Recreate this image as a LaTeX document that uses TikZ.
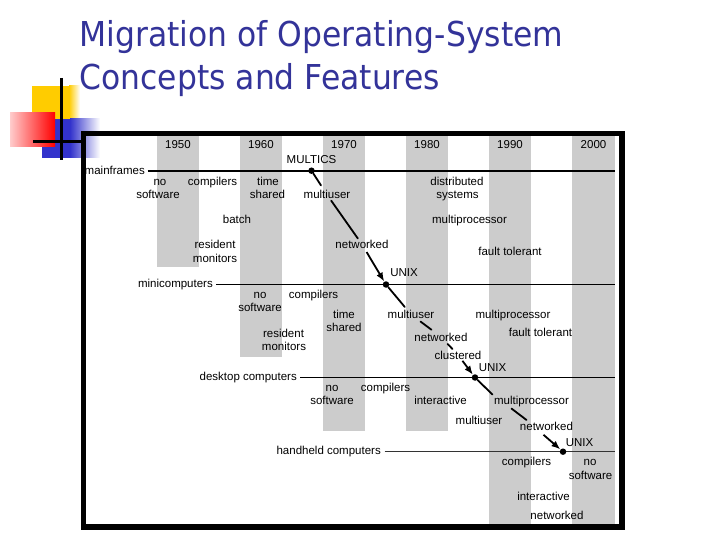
\documentclass[tikz,border=0pt]{standalone}
\usepackage{fontspec}
\setmainfont{Liberation Sans}
\newfontfamily\titlefont[FakeStretch=0.915]{DejaVu Sans}
\usetikzlibrary{arrows.meta,calc}
\definecolor{titleblue}{RGB}{51,51,153}
\definecolor{bandgray}{RGB}{204,204,204}
\definecolor{logoyellow}{RGB}{255,204,0}
\definecolor{logoblue}{RGB}{51,51,204}
\definecolor{logored}{RGB}{255,0,0}
\begin{document}
\begin{tikzpicture}[x=1pt,y=-1pt,
  txt/.style={font=\fontsize{11.5}{13.3}\selectfont, inner sep=1.5pt, anchor=base},
  lbl/.style={font=\fontsize{11.5}{13.3}\selectfont, inner sep=0pt, anchor=east},
  titletxt/.style={font=\titlefont\fontsize{34.3}{43}\selectfont, text=titleblue, inner sep=0pt, anchor=base west},
  band/.style={fill=bandgray},
  conn/.style={line width=1.8pt, line cap=round},
  arr/.style={line width=1.8pt, -{Latex[length=9pt,width=7pt]}},
  dotnode/.style={circle, fill=black, inner sep=0pt, minimum size=6.5pt},
  logoline/.style={line width=2.5pt, black}
  ]
\useasboundingbox (0,0) rectangle (720,540);
\fill[white] (0,0) rectangle (720,540);

% ---- logo ----
\fill[logoyellow] (32,86) rectangle (69,127);
\shade[left color=logoyellow, right color=white] (69,86) rectangle (80,127);
\fill[logoblue] (42,119) rectangle (70,158);
\shade[left color=logoblue, right color=white] (70,119) rectangle (100,158);
\shade[left color=logored!20!white, right color=logored] (10,113) rectangle (55,147);
\draw[logoline] (61.5,78) -- (61.5,160);
\draw[logoline] (33,141.5) -- (82,141.5);

% ---- title ----
\node[titletxt] (title1) at (79.5,46.7) {Migration of Operating-System};
\node[titletxt] (title2) at (79.5,90) {Concepts and Features};

% ---- decade bands ----
\fill[band] (157,136) rectangle (199,267);
\fill[band] (240,136) rectangle (282,357);
\fill[band] (323,136) rectangle (365,431);
\fill[band] (406,136) rectangle (448,431);
\fill[band] (489,136) rectangle (531,524);
\fill[band] (572,136) rectangle (615,524);

% ---- frame ----
\draw[line width=5.6pt] (83.5,133.5) rectangle (622.2,527);

% ---- years ----
\node[txt] (y1950) at (178,149) {1950};
\node[txt] (y1960) at (261,149) {1960};
\node[txt] (y1970) at (344,149) {1970};
\node[txt] (y1980) at (427,149) {1980};
\node[txt] (y1990) at (510,149) {1990};
\node[txt] (y2000) at (593.5,149) {2000};

% ---- platform lines ----
\coordinate (rx) at (615,0);
\node[lbl] (mfl) at (145,170.7) {mainframes};
\node[lbl] (mcl) at (213,284.5) {minicomputers};
\node[lbl] (dcl) at (297,377.5) {desktop computers};
\node[lbl] (hcl) at (381,451.7) {handheld computers};
\draw[line width=2.2pt, shorten <=2.5pt] (mfl.east) -- (mfl.east -| rx);
\draw[line width=1.5pt, shorten <=3pt] (mcl.east) -- (mcl.east -| rx);
\draw[line width=1.2pt, shorten <=3pt] (dcl.east) -- (dcl.east -| rx);
\draw[line width=0.8pt, black!80, shorten <=3.5pt] (hcl.east) -- (hcl.east -| rx);

% ---- mainframes ----
\node[txt] (mlt) at (311.5,164) {MULTICS};
\node[txt] (ns1a) at (160,185.5) {no};
\node[txt] (ns1b) at (158,198.8) {software};
\node[txt] (cp1) at (212.5,185.5) {compilers};
\node[txt] (ts1a) at (268,185.5) {time};
\node[txt] (ts1b) at (267.5,198.8) {shared};
\node[txt] (mu1) at (327,198.8) {multiuser};
\node[txt] (bt1) at (237,224) {batch};
\node[txt] (rm1a) at (215,248.5) {resident};
\node[txt] (rm1b) at (215,262) {monitors};
\node[txt] (nw1) at (362,248.5) {networked};
\node[txt] (ds1a) at (457,185.5) {distributed};
\node[txt] (ds1b) at (457.5,198.8) {systems};
\node[txt] (mp1) at (469.5,224) {multiprocessor};
\node[txt] (ft1) at (510,255) {fault tolerant};
\node[txt] (ux1) at (404,276) {UNIX};

% ---- minicomputers ----
\node[txt] (ns2a) at (260,298.5) {no};
\node[txt] (ns2b) at (260,311.5) {software};
\node[txt] (cp2) at (313.5,298.5) {compilers};
\node[txt] (ts2a) at (344,318.5) {time};
\node[txt] (ts2b) at (344,331.5) {shared};
\node[txt] (rm2a) at (283.5,337) {resident};
\node[txt] (rm2b) at (284,350) {monitors};
\node[txt] (mu2) at (411,318.5) {multiuser};
\node[txt] (mp2) at (513,318.5) {multiprocessor};
\node[txt] (ft2) at (540.5,336) {fault tolerant};
\node[txt] (nw2) at (441,341) {networked};
\node[txt] (cl2) at (458,359) {clustered};
\node[txt] (ux2) at (492.5,371) {UNIX};

% ---- desktop ----
\node[txt] (ns3a) at (332,391) {no};
\node[txt] (ns3b) at (332,404) {software};
\node[txt] (cp3) at (385.5,391) {compilers};
\node[txt] (ia3) at (440.5,404.5) {interactive};
\node[txt] (mp3) at (531.5,404.5) {multiprocessor};
\node[txt] (mu3) at (479,424.5) {multiuser};
\node[txt] (nw3) at (546.5,430) {networked};
\node[txt] (ux3) at (579.5,446) {UNIX};

% ---- handheld ----
\node[txt] (cp4) at (526.5,465.5) {compilers};
\node[txt] (ns4a) at (590,465.5) {no};
\node[txt] (ns4b) at (590.5,479) {software};
\node[txt] (ia4) at (543.5,500) {interactive};
\node[txt] (nw4) at (557,519) {networked};

% ---- UNIX/MULTICS lineage dots ----
\node[dotnode] (d1) at (311.5,170.7) {};
\node[dotnode] (d2) at (386,284.5) {};
\node[dotnode] (d3) at (475,377.5) {};
\node[dotnode] (d4) at (563,451.7) {};

% ---- connectors ----
\draw[conn, shorten >=4pt] (d1) -- (mu1);
\draw[conn] (mu1) -- (nw1);
\draw[arr, shorten <=2pt] (nw1) -- (d2);
\draw[conn, shorten >=2pt] (d2) -- (mu2);
\draw[conn, shorten <=2pt, shorten >=2pt] (mu2) -- (nw2);
\draw[conn, shorten <=1.5pt] (nw2) -- (cl2);
\draw[arr] (cl2) -- (d3);
\draw[conn] (d3) -- (mp3.north west);
\draw[conn] ([xshift=-20pt]mp3.south) -- ([xshift=-20pt]nw3.north);
\draw[arr] ([xshift=-3pt,yshift=-3pt]nw3.south) -- (d4);
\end{tikzpicture}
\end{document}
